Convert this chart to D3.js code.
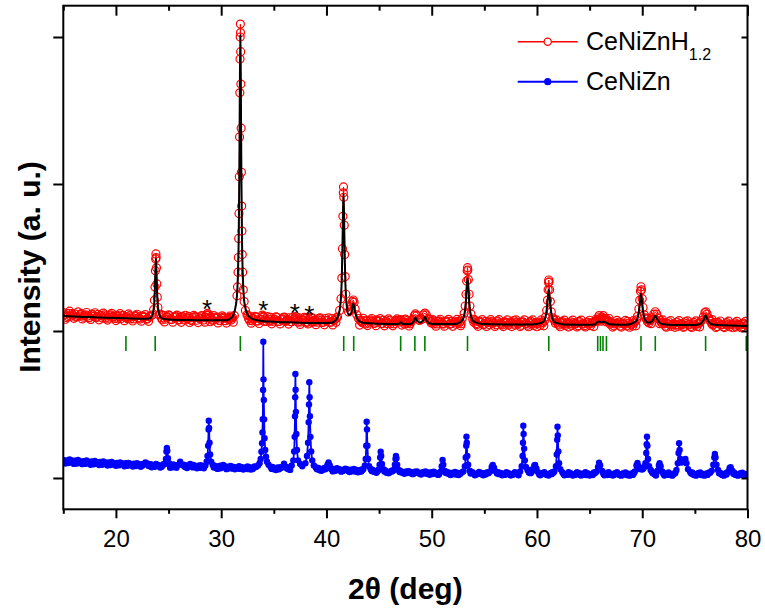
<!DOCTYPE html>
<html>
<head>
<meta charset="utf-8">
<script src="https://cdn.jsdelivr.net/npm/d3@7"></script>
<style>
	body { margin:0; background:#ffffff; }
	svg { display:block; font-family: Arial, "Liberation Sans", sans-serif; }
</style>
</head>
<body>
<div id="chart"></div>
<script>

	// 2theta (deg), intensity (a.u., curves offset as in the figure)
	var hydrideObs = [
		[15.0,112.5],[15.4,110.0],[15.8,111.8],[16.2,109.5],[16.6,111.2],[17.0,110.4],[17.4,108.9],[17.8,111.0],[18.2,109.6],[18.6,110.6],
		[19.0,108.7],[19.4,110.3],[19.8,109.9],[20.2,108.3],[20.6,110.4],[21.0,109.8],[21.4,108.2],[21.8,110.1],[22.2,108.9],[22.6,109.6],
		[23.0,108.4],[23.25,110.0],
		[23.45,110.8],[23.58,114.5],[23.66,121],[23.71,130],[23.75,141],[23.78,149],[23.8,152.4],[23.82,150],[23.85,143],[23.89,132],
		[23.93,123],[23.99,116],[24.1,111],
		[24.4,107.6],[24.8,109.5],[25.2,108.0],[25.6,109.8],[26.0,107.5],[26.4,109.0],[26.8,108.2],[27.2,107.1],[27.6,109.4],[28.0,108.3],
		[28.3,107.4],[28.6,110.8],[28.8,111.0],[29.1,108.0],[29.5,109.1],[29.9,107.2],[30.3,108.7],[30.7,107.6],[31.0,108.9],[31.25,110.5],
		[31.5,124],[31.55,130],[31.6,140],[31.63,150],[31.66,163],[31.69,180],[31.72,205],[31.745,232],[31.77,262],[31.79,285],
		[31.805,300],[31.82,308.8],[31.835,303],[31.85,290],[31.87,268],[31.895,238],[31.92,208],[31.945,185],[31.97,168],[32.0,152],
		[32.04,140],[32.1,128],[32.18,120],[32.3,114],[32.45,111],
		[32.7,107.2],[33.0,108.5],[33.4,106.8],[33.8,108.0],[34.0,109.5],[34.2,108.3],[34.6,106.6],[35.0,107.9],[35.4,106.5],[35.8,108.2],
		[36.2,107.0],[36.6,106.3],[37.0,108.2],[37.3,106.0],[37.7,107.5],[38.1,105.9],[38.4,107.5],[38.8,106.2],[39.2,107.6],[39.6,105.8],
		[40.0,107.0],[40.4,106.0],[40.8,107.8],[41.05,109.5],
		[41.25,114],[41.38,122],[41.46,136],[41.52,156],[41.56,178],[41.6,194],[41.62,198],[41.65,191],[41.69,172],[41.73,152],
		[41.78,137],[41.84,125],[41.95,117],[42.1,113],[42.25,114.5],[42.38,117],[42.48,120],[42.55,121.1],[42.63,119.5],[42.73,115],
		[42.88,111],[43.05,108.5],
		[43.3,106.4],[43.7,104.8],[44.1,106.7],[44.5,105.2],[44.9,106.9],[45.3,105.0],[45.7,106.5],[46.1,104.9],[46.5,106.6],[46.85,106.8],
		[47.05,107.8],[47.3,106.0],[47.7,105.2],[48.0,106.3],
		[48.2,108],[48.35,110.5],[48.45,111.6],[48.58,110.5],[48.75,108],[48.95,108.5],[49.2,111],[49.35,112.2],[49.48,111],[49.65,108.5],
		[49.9,106.6],[50.2,104.8],[50.6,106.5],[51.0,105.0],[51.4,106.8],[51.8,104.9],[52.2,106.3],[52.6,105.4],
		[52.9,108.5],[53.08,112],[53.18,117],[53.26,125],[53.32,134],[53.37,141],[53.4,143.1],[53.43,141.5],[53.48,135],[53.55,125],
		[53.63,117],[53.73,111.5],[53.9,108],
		[54.2,105.0],[54.6,106.4],[55.0,104.7],[55.4,106.2],[55.8,105.1],[56.2,106.9],[56.6,104.8],[57.0,106.0],[57.4,105.3],[57.8,107.0],
		[58.2,104.9],[58.6,106.2],[59.0,105.0],[59.4,106.7],[59.8,105.2],[60.2,106.0],[60.55,105.5],
		[60.8,109.5],[60.92,114],[61.0,121],[61.06,128],[61.1,133],[61.12,134.7],[61.15,133.5],[61.2,128],[61.27,120],[61.36,113],
		[61.5,109],[61.7,107],
		[62.0,104.7],[62.4,106.4],[62.8,104.9],[63.2,106.2],[63.6,105.0],[64.0,106.6],[64.4,104.8],[64.8,106.0],[65.2,105.2],
		[65.6,108],[65.8,109],[66.0,108.4],[66.2,109.2],[66.45,108.6],[66.7,107.5],
		[67.0,106.3],[67.4,104.8],[67.8,106.1],[68.2,105.0],[68.6,106.5],[69.0,104.6],[69.3,106.2],
		[69.55,110],[69.68,115],[69.76,121],[69.83,127],[69.88,130.1],[69.93,128],[70.0,122],[70.08,116],[70.2,111],[70.4,108],
		[70.7,107],[70.95,109],[71.1,111.5],[71.24,113.1],[71.38,111.5],[71.55,108.5],[71.8,106],
		[72.1,104.9],[72.5,106.3],[72.9,104.5],[73.3,106.0],[73.7,104.9],[74.1,106.4],[74.5,104.6],[74.9,105.8],[75.3,104.8],
		[75.6,107],[75.8,109.5],[75.95,112.5],[76.05,113.1],[76.15,111.5],[76.3,109],[76.5,106.5],
		[76.8,104.6],[77.2,105.9],[77.6,104.4],[78.0,105.7],[78.4,104.2],[78.8,105.5],[79.2,104.0],[79.6,105.3],[80.0,104.5]
	];

	// in-between readings of the noisy hydride background
	var hydrideObsMid = [
		[15.2,108.0],[15.6,113.5],[16.0,108.6],[16.4,113.0],[16.8,108.2],[17.2,112.6],[17.6,107.9],[18.0,112.4],[18.4,107.6],[18.8,112.2],
		[19.2,107.4],[19.6,112.0],[20.0,107.1],[20.4,111.8],[20.8,107.0],[21.2,111.6],[21.6,106.8],[22.0,111.4],[22.4,106.7],[22.8,111.2],
		[23.1,106.6],[24.25,111.4],[24.6,106.2],[25.0,111.0],[25.4,106.0],[25.8,110.8],[26.2,105.9],[26.6,110.7],[27.0,105.8],[27.4,110.6],
		[27.8,105.7],[28.15,110.5],[28.45,106.0],[28.7,112.0],[28.95,106.3],[29.3,110.4],[29.7,105.5],[30.1,110.3],[30.5,105.4],[30.85,110.2],
		[31.15,106.0],[32.55,110.6],[32.85,105.3],[33.2,110.0],[33.6,105.1],[33.9,110.8],[34.1,106.5],[34.4,109.8],[34.8,104.9],[35.2,109.6],
		[35.6,104.8],[36.0,109.5],[36.4,104.7],[36.8,109.4],[37.1,109.8],[37.5,104.5],[37.9,109.2],[38.25,104.8],[38.5,109.5],[39.0,104.3],
		[39.4,109.0],[39.8,104.2],[40.2,108.9],[40.6,104.1],[40.95,108.9],[43.15,104.0],[43.5,108.6],[43.9,103.7],[44.3,108.5],[44.7,103.6],
		[45.1,108.4],[45.5,103.5],[45.9,108.3],[46.3,103.5],[46.7,108.2],[47.15,104.0],[47.5,108.1],[47.85,103.4],[50.05,108.0],[50.4,103.3],
		[50.8,108.0],[51.2,103.3],[51.6,107.9],[52.0,103.2],[52.4,107.9],[52.75,103.6],[54.05,107.8],[54.4,103.2],[54.8,107.8],[55.2,103.1],
		[55.6,107.7],[56.0,103.1],[56.4,107.7],[56.8,103.0],[57.2,107.6],[57.6,103.0],[58.0,107.6],[58.4,103.0],[58.8,107.6],[59.2,102.9],
		[59.6,107.5],[60.0,102.9],[60.4,107.5],[60.65,103.5],[61.85,107.5],[62.2,102.9],[62.6,107.4],[63.0,102.8],[63.4,107.4],[63.8,102.8],
		[64.2,107.4],[64.6,102.8],[65.0,107.3],[65.4,103.0],[65.7,106.5],[65.9,110.5],[66.1,106.7],[66.3,110.5],[66.6,106.2],[66.85,108.5],
		[67.2,102.7],[67.6,107.2],[68.0,102.7],[68.4,107.2],[68.8,102.6],[69.15,107.1],[69.4,103.5],[70.55,108.8],[70.85,105.0],[71.65,105.0],
		[71.95,107.5],[72.3,102.6],[72.7,107.0],[73.1,102.5],[73.5,107.0],[73.9,102.5],[74.3,106.9],[74.7,102.4],[75.1,106.9],[75.45,102.8],
		[76.65,107.8],[77.0,102.4],[77.4,106.8],[77.8,102.3],[78.2,106.7],[78.6,102.2],[79.0,106.6],[79.4,102.2],[79.8,106.5]
	];

	// further background readings of the hydride (odd tenths)
	var hydrideObsFine = [
		[15.1,111.0],[15.3,109.2],[15.5,112.0],[15.7,110.0],[15.9,110.8],[16.1,111.6],[16.3,109.8],[16.5,110.2],[16.7,111.8],[16.9,109.4],
		[17.1,111.0],[17.3,110.2],[17.5,109.2],[17.7,111.5],[17.9,110.0],[18.1,109.0],[18.3,111.3],[18.5,110.5],[18.7,108.8],[18.9,110.9],
		[19.1,110.2],[19.3,108.7],[19.5,111.0],[19.7,109.5],[19.9,108.6],[20.1,110.7],[20.3,109.9],[20.5,108.5],[20.7,110.6],[20.9,109.1],
		[21.1,108.4],[21.3,110.5],[21.5,109.6],[21.7,108.2],[21.9,110.4],[22.1,109.0],[22.3,108.1],[22.5,110.3],[22.7,109.4],[22.9,108.0],
		[23.15,109.8],[24.3,109.0],[24.5,110.6],[24.7,108.0],[24.9,109.6],[25.1,110.4],[25.3,107.8],[25.5,109.3],[25.7,110.2],[25.9,107.6],
		[26.1,109.2],[26.3,110.0],[26.5,107.5],[26.7,109.1],[26.9,109.9],[27.1,107.4],[27.3,109.0],[27.5,109.8],[27.7,107.3],[27.9,108.9],
		[28.1,109.7],[28.5,109.5],[28.7,110.6],[28.9,108.6],[29.0,109.6],[29.2,107.2],[29.4,108.8],[29.6,109.5],[29.8,107.1],[30.0,108.7],
		[30.2,109.4],[30.4,107.0],[30.6,108.6],[30.8,109.3],[30.95,107.5],[31.1,109.0],[32.6,108.3],[32.8,109.6],[32.95,106.9],[33.1,108.2],
		[33.3,109.5],[33.5,106.8],[33.7,108.1],[33.95,110.0],[34.3,106.7],[34.5,108.0],[34.7,109.3],[34.9,106.6],[35.1,107.9],[35.3,109.2],
		[35.5,106.5],[35.7,107.8],[35.9,109.1],[36.1,106.4],[36.3,107.7],[36.5,109.0],[36.7,106.3],[36.9,108.3],[37.05,109.0],[37.2,107.6],
		[37.4,108.9],[37.6,106.2],[37.8,107.5],[38.0,108.8],[38.2,106.1],[38.35,108.4],[38.6,106.0],[38.7,108.7],[38.9,107.4],[39.1,106.0],
		[39.3,108.6],[39.5,107.3],[39.7,105.9],[39.9,108.5],[40.1,107.2],[40.3,105.8],[40.5,108.4],[40.7,107.1],[40.9,105.9],[43.2,107.2],
		[43.4,105.6],[43.6,107.0],[43.8,106.9],[44.0,105.3],[44.2,107.6],[44.4,106.6],[44.6,105.2],[44.8,107.5],[45.0,106.5],[45.2,105.1],
		[45.4,107.4],[45.6,106.4],[45.8,105.0],[46.0,107.3],[46.2,106.3],[46.4,104.9],[46.6,107.2],[46.8,106.0],[47.0,107.5],[47.2,106.4],
		[47.4,104.8],[47.6,107.0],[47.8,106.1],[47.95,104.9],[48.1,107.0],[48.85,107.2],[49.05,107.9],[49.75,107.8],[49.95,105.5],[50.1,107.0],
		[50.3,106.2],[50.5,104.8],[50.7,106.9],[50.9,106.1],[51.1,104.7],[51.3,106.8],[51.5,106.0],[51.7,104.6],[51.9,106.7],[52.1,105.9],
		[52.3,104.6],[52.5,106.6],[52.7,106.5],[52.8,104.9],[54.0,106.0],[54.15,106.8],[54.3,104.4],[54.5,106.6],[54.7,105.8],[54.9,104.3],
		[55.1,106.5],[55.3,105.7],[55.5,104.2],[55.7,106.4],[55.9,105.6],[56.1,104.2],[56.3,106.3],[56.5,105.5],[56.7,104.1],[56.9,106.2],
		[57.1,105.4],[57.3,104.0],[57.5,106.2],[57.7,105.3],[57.9,104.0],[58.1,106.1],[58.3,105.3],[58.5,103.9],[58.7,106.0],[58.9,105.2],
		[59.1,103.9],[59.3,106.0],[59.5,105.1],[59.7,103.8],[59.9,105.9],[60.1,105.1],[60.3,103.8],[60.45,105.9],[60.7,106.8],[61.6,108.0],
		[61.75,105.2],[61.9,106.0],[62.1,104.0],[62.3,105.8],[62.5,105.0],[62.7,103.7],[62.9,105.7],[63.1,104.9],[63.3,103.7],[63.5,105.7],
		[63.7,104.9],[63.9,103.6],[64.1,105.6],[64.3,104.8],[64.5,103.6],[64.7,105.6],[64.9,104.8],[65.1,103.6],[65.3,105.9],[65.5,106.5],
		[65.75,107.2],[65.95,108.0],[66.15,107.5],[66.35,107.8],[66.55,107.6],[66.8,106.2],[66.95,104.6],[67.1,105.5],[67.3,103.5],[67.5,105.4],
		[67.7,104.7],[67.9,103.4],[68.1,105.4],[68.3,104.6],[68.5,103.4],[68.7,105.3],[68.9,104.6],[69.1,103.4],[69.2,105.3],[69.45,107.5],
		[70.3,109.0],[70.5,106.3],[70.65,105.5],[70.8,107.8],[71.7,107.3],[71.9,105.0],[72.0,106.0],[72.2,103.3],[72.4,105.2],[72.6,104.4],
		[72.8,103.2],[73.0,105.1],[73.2,104.3],[73.4,103.2],[73.6,105.1],[73.8,104.3],[74.0,103.1],[74.2,105.0],[74.4,104.2],[74.6,103.1],
		[74.8,104.9],[75.0,104.2],[75.2,103.1],[75.4,105.2],[75.5,106.0],[76.4,107.5],[76.6,105.0],[76.7,104.0],[76.9,105.9],[77.1,103.0],
		[77.3,104.9],[77.5,104.1],[77.7,102.9],[77.9,104.8],[78.1,104.0],[78.3,102.9],[78.5,104.8],[78.7,104.0],[78.9,102.8],[79.1,104.7],
		[79.3,103.9],[79.5,102.8],[79.7,104.6],[79.9,103.9]
	];

	// calculated (fit) profile of the hydride
	var hydrideCalc = [
		[15.0,110.2],[17.0,109.6],[19.0,109.0],[21.0,108.6],[22.6,108.3],[23.2,108.5],[23.4,109.8],[23.55,113.5],[23.65,120.3],[23.7,128.7],
		[23.75,141.1],[23.8,149.4],[23.85,141.1],[23.9,128.7],[23.95,120.3],[24.05,113.5],[24.2,109.8],[24.4,108.6],[25.0,107.9],[27.0,107.5],
		[29.0,107.3],[30.5,107.3],[30.9,108.6],[31.12,110.5],[31.42,118.6],[31.57,134],[31.67,167.2],[31.72,204.2],[31.77,262.2],[31.82,301.2],
		[31.87,262.2],[31.92,204.2],[31.97,167.2],[32.07,134],[32.22,118.6],[32.52,111.1],[32.9,108.5],[33.5,107.2],[35.0,106.3],[37.0,105.8],
		[39.0,105.4],[40.5,105.6],[40.9,107.5],[41.12,110.4],[41.32,117.6],[41.44,132.5],[41.5,149.5],[41.56,175.9],[41.62,193.5],[41.68,175.9],
		[41.74,149.5],[41.8,132.5],[41.92,117.6],[42.12,110.8],[42.3,111.5],[42.42,114.5],[42.49,117.3],[42.55,118.5],[42.61,117.3],[42.7,113.5],
		[42.85,109.5],[43.1,106.8],[43.5,105.6],[45.0,104.9],[46.8,104.7],[47.05,105.9],[47.3,104.7],[48.1,105.0],[48.3,106.8],[48.45,109.1],
		[48.6,107.0],[48.9,105.8],[49.2,107.3],[49.35,109.5],[49.5,107.3],[49.75,105.3],[50.5,104.7],[52.2,104.8],[52.7,106.0],[53.0,108.5],
		[53.15,113.0],[53.25,120.5],[53.32,129.3],[53.4,136.3],[53.48,129.3],[53.55,120.5],[53.65,113.0],[53.8,108.5],[54.1,106.0],[54.8,104.8],
		[57.0,104.5],[59.5,104.5],[60.4,105.5],[60.72,107.5],[60.87,111.7],[60.97,117.8],[61.04,122.8],[61.12,128.0],[61.2,122.8],[61.27,117.8],
		[61.37,111.7],[61.52,107.5],[61.85,105.5],[62.6,104.5],[65.0,104.3],[65.5,104.5],[65.75,106.0],[65.9,106.5],[66.1,106.0],[66.3,106.3],
		[66.6,105.6],[66.9,104.6],[68.5,104.2],[69.43,106.8],[69.6,109.8],[69.71,114.6],[69.79,120.5],[69.88,125.1],[69.97,120.5],[70.05,114.6],
		[70.16,109.8],[70.33,106.8],[70.6,105.6],[70.9,106.5],[71.08,108.3],[71.24,110.4],[71.4,108.3],[71.6,106.0],[71.9,104.8],[73.0,104.1],
		[75.0,104.0],[75.5,104.8],[75.75,106.5],[75.9,108.7],[76.02,110.5],[76.14,108.7],[76.3,106.5],[76.55,104.8],[77.2,104.0],[80.0,103.4]
	];

	// CeNiZn pattern
	var alloyObs = [
		[15.0,12.2],[15.4,10.6],[15.8,11.9],[16.2,10.3],[16.6,11.2],[17.0,10.0],[17.4,11.1],[17.8,9.6],[18.2,10.7],[18.6,9.5],
		[19.0,10.5],[19.4,9.2],[19.8,10.1],[20.2,9.0],[20.6,9.8],[21.0,8.6],[21.4,9.5],[21.8,8.4],[22.2,9.2],[22.5,8.3],
		[22.65,9.4],[22.8,10.6],[22.95,9.3],[23.2,8.9],[23.6,7.9],[24.0,8.8],[24.35,7.7],
		[24.65,9.5],[24.75,13],[24.8,18],[24.84,20.4],[24.88,18.5],[24.94,13.5],[25.05,10],[25.3,7.6],[25.6,8.4],
		[25.9,8.8],[26.1,11],[26.3,8.9],[26.6,7.4],[26.9,8.0],[27.05,9.6],[27.2,8.0],[27.5,8.1],[27.9,7.0],[28.2,7.9],
		[28.5,8.5],[28.62,11],[28.7,15],[28.76,22],[28.8,33],[28.82,39],[28.85,34],[28.89,24],[28.95,16],[29.05,11],[29.2,8.8],
		[29.5,6.8],[29.8,7.6],[30.05,7.5],[30.2,8.9],[30.35,7.3],
		[30.7,6.6],[31.1,7.4],[31.5,6.4],[31.9,7.2],[32.3,6.3],[32.7,7.1],[33.0,6.2],
		[33.3,7.5],[33.5,8.5],[33.65,10],[33.75,13],[33.82,17.9],[33.88,23.6],[33.92,31],[33.95,40],[33.98,59.9],[34.0,92.7],
		[34.02,67.1],[34.05,53.1],[34.08,39.9],[34.12,27],[34.18,19],[34.26,14.5],[34.35,11],[34.5,9],[34.7,7.5],
		[35.0,6.0],[35.4,7.0],[35.8,7.3],[35.97,9.8],[36.15,7.5],[36.4,6.0],
		[36.7,8.5],[36.85,12],[36.93,18],[36.98,28],[37.01,42],[37.03,55],[37.05,70.7],[37.07,60],[37.1,45],[37.14,30],[37.2,19],[37.3,12],
		[37.5,9.5],[37.7,8],[38.0,10],[38.15,15],[38.25,24],[38.31,38],[38.34,50],[38.37,65.1],[38.4,55],[38.43,42],[38.48,28],
		[38.55,18],[38.65,12],[38.8,8.5],[39.0,7],
		[39.3,5.4],[39.7,6.4],[40.0,6.8],[40.1,9],[40.2,10.5],[40.32,8.5],[40.45,6.2],
		[40.8,5.0],[41.2,6.0],[41.6,4.9],[42.0,5.8],[42.4,4.6],[42.8,5.5],[43.2,4.4],
		[43.5,6],[43.65,8.5],[43.73,13],[43.78,22],[43.82,38.3],[43.85,33],[43.89,22],[43.95,13],[44.05,8],[44.2,6],[44.5,4.3],
		[44.95,5.8],[45.05,9],[45.1,14],[45.15,17.9],[45.2,15],[45.27,9.5],[45.4,6],[45.7,3.6],[46.1,4.6],
		[46.4,5.5],[46.5,9],[46.56,13],[46.6,15.0],[46.65,13.5],[46.72,9],[46.85,5.5],
		[47.2,3.5],[47.6,4.4],[48.0,3.2],[48.4,4.2],[48.8,3.0],[49.2,4.0],[49.6,2.9],[50.0,3.9],[50.4,2.8],
		[50.85,4.5],[50.95,8],[51.03,12.2],[51.1,9],[51.22,4.8],[51.6,3.8],[52.0,2.6],[52.4,3.6],[52.7,2.7],
		[53.0,4.5],[53.15,8],[53.23,14],[53.28,22],[53.3,28.1],[53.33,24],[53.38,15],[53.46,9],[53.6,5],
		[53.9,3.7],[54.3,2.5],[54.7,3.5],[55.1,2.4],[55.55,4.5],[55.7,7.5],[55.8,8.8],[55.92,7],[56.1,4.5],
		[56.5,3.4],[56.9,2.3],[57.3,3.3],[57.7,2.2],[58.1,3.4],
		[58.4,4.5],[58.55,8],[58.63,15],[58.67,24],[58.7,35.6],[58.73,30],[58.78,20],[58.85,12],[58.95,7.5],[59.1,5.5],[59.35,4.2],
		[59.6,5.5],[59.75,8.5],[59.82,8.8],[59.95,6.5],[60.1,4],[60.5,3.3],[60.9,2.2],[61.3,3.2],
		[61.65,4.5],[61.8,8],[61.88,16],[61.92,26],[61.95,34.9],[61.98,29],[62.03,18],[62.1,10],[62.22,6],[62.4,4],
		[62.8,2.2],[63.2,3.3],[63.6,2.1],[64.0,3.2],[64.4,2.2],[64.8,3.1],[65.2,2.3],
		[65.65,4.2],[65.8,7.5],[65.9,10.4],[66.0,8.5],[66.2,4.8],
		[66.6,3.1],[67.0,2.1],[67.4,3.2],[67.8,2.2],[68.2,3.1],[68.6,2.0],[69.0,3.0],
		[69.3,4.5],[69.45,8.5],[69.55,10.2],[69.65,8],[69.8,6],[70.1,6.5],[70.3,10],[70.38,17],[70.42,23],[70.45,28.1],
		[70.49,22],[70.55,13],[70.65,8],[70.8,5.5],[71.1,3.0],
		[71.45,5],[71.58,8.5],[71.65,10.0],[71.75,8],[71.9,4.5],[72.3,3.2],[72.7,2.1],[73.0,3.0],
		[73.25,5.5],[73.38,10],[73.45,17],[73.5,23.6],[73.55,19],[73.63,13],[73.75,10.5],[73.85,11],[74.0,12],[74.1,12.9],
		[74.2,10],[74.35,6],[74.55,4],[74.9,2.2],[75.3,3.2],[75.7,2.1],[76.1,3.1],
		[76.6,5],[76.75,9],[76.85,14],[76.9,16.3],[76.96,14],[77.05,9],[77.2,5.5],[77.6,2.1],[77.9,3.1],
		[78.15,4.2],[78.3,6.8],[78.4,7.3],[78.55,5],[78.9,2.0],[79.3,3.1],[79.7,2.2],[80.0,2.9]
	];

	// in-between readings of the CeNiZn background
	var alloyObsMid = [
		[15.2,9.8],[15.6,12.6],[16.0,9.6],[16.4,12.2],[16.8,9.4],[17.2,11.9],[17.6,9.0],[18.0,11.6],[18.4,8.8],[18.8,11.2],
		[19.2,8.5],[19.6,10.9],[20.0,8.3],[20.4,10.6],[20.8,8.0],[21.2,10.3],[21.6,7.8],[22.0,10.0],[22.35,7.6],[23.05,9.8],
		[23.4,7.3],[23.8,9.6],[24.2,7.1],[24.5,9.3],[25.15,7.0],[25.45,9.2],[25.75,7.0],[26.45,9.0],[26.75,6.8],[27.35,8.9],
		[27.7,6.6],[28.05,8.7],[28.35,6.6],[29.35,8.4],[29.65,6.2],[29.9,8.4],[30.5,6.0],[30.9,8.2],[31.3,5.9],[31.7,8.0],
		[32.1,5.8],[32.5,7.9],[32.85,5.7],[33.15,7.8],[34.85,7.5],[35.2,5.4],[35.6,7.4],[36.3,7.3],[36.55,5.5],[39.15,7.0],
		[39.5,4.9],[39.85,7.0],[40.6,4.5],[41.0,6.6],[41.4,4.3],[41.8,6.4],[42.2,4.1],[42.6,6.1],[43.0,3.9],[43.35,5.8],
		[44.35,5.6],[44.75,3.5],[45.55,5.3],[45.9,3.2],[46.25,5.2],[47.0,4.9],[47.4,2.8],[47.8,4.7],[48.2,2.6],[48.6,4.5],
		[49.0,2.4],[49.4,4.4],[49.8,2.2],[50.2,4.3],[50.6,2.1],[51.4,4.2],[51.8,2.0],[52.2,4.1],[52.55,2.0],[52.85,3.8],
		[53.75,4.3],[54.1,1.9],[54.5,4.1],[54.9,1.8],[55.3,4.0],[56.3,4.0],[56.7,1.8],[57.1,4.0],[57.5,1.7],[57.9,4.0],
		[58.25,1.9],[59.25,3.6],[59.45,5.6],[60.3,1.8],[60.7,4.0],[61.1,1.7],[61.45,3.9],[62.6,1.8],[63.0,4.0],[63.4,1.7],
		[63.8,3.9],[64.2,1.7],[64.6,3.9],[65.0,1.7],[65.4,3.7],[66.4,1.8],[66.8,3.9],[67.2,1.7],[67.6,3.9],[68.0,1.6],
		[68.4,3.8],[68.8,1.6],[69.15,3.6],[70.95,4.0],[71.3,1.7],[72.1,1.7],[72.5,3.8],[72.85,1.6],[73.15,3.6],[74.75,3.7],
		[75.1,1.6],[75.5,3.7],[75.9,1.6],[76.35,3.7],[77.4,3.6],[77.75,1.6],[78.05,3.6],[78.75,3.6],[79.1,1.6],[79.5,3.6],
		[79.9,1.6]
	];

	// further background readings of CeNiZn (odd tenths)
	var alloyObsFine = [
		[15.1,11.0],[15.3,12.0],[15.5,10.2],[15.7,11.3],[15.9,10.6],[16.1,11.8],[16.3,9.9],[16.5,11.0],[16.7,10.4],[16.9,11.5],
		[17.1,9.6],[17.3,10.7],[17.5,10.1],[17.7,11.2],[17.9,9.3],[18.1,10.4],[18.3,9.8],[18.5,10.9],[18.7,9.0],[18.9,10.1],
		[19.1,9.6],[19.3,10.6],[19.5,8.8],[19.7,9.8],[19.9,9.4],[20.1,10.3],[20.3,8.6],[20.5,9.6],[20.7,9.2],[20.9,10.0],
		[21.1,8.3],[21.3,9.3],[21.5,9.0],[21.7,9.8],[21.9,8.1],[22.1,9.1],[22.3,8.8],[22.45,9.4],[23.1,8.1],[23.3,9.3],
		[23.5,8.5],[23.7,7.6],[23.9,9.0],[24.1,8.3],[24.25,7.4],[24.45,8.6],[25.2,8.9],[25.4,7.3],[25.5,8.6],[25.7,8.0],
		[26.5,7.8],[26.7,8.6],[27.3,7.2],[27.4,8.5],[27.6,7.6],[27.8,8.3],[28.0,7.0],[28.1,8.2],[28.3,7.4],[28.4,8.1],
		[29.3,7.2],[29.4,8.0],[29.6,7.5],[29.7,7.9],[29.95,6.6],[30.45,7.8],[30.6,6.7],[30.8,7.6],[31.0,6.4],[31.2,7.5],
		[31.4,6.9],[31.6,7.3],[31.8,6.2],[32.0,7.3],[32.2,6.8],[32.4,7.2],[32.6,6.0],[32.8,7.0],[32.95,6.7],[33.1,7.0],
		[34.8,6.2],[34.95,7.2],[35.1,6.6],[35.3,7.0],[35.5,5.9],[35.7,6.9],[36.25,6.4],[36.5,6.9],
		[39.1,6.0],[39.2,6.7],[39.4,6.3],[39.6,5.3],[39.8,6.5],[39.9,5.9],[40.55,5.8],[40.7,6.2],[40.9,5.1],[41.1,6.0],
		[41.3,5.6],[41.5,4.8],[41.7,5.8],[41.9,5.4],[42.1,4.6],[42.3,5.6],[42.5,5.1],[42.7,4.4],[42.9,5.4],[43.1,4.9],
		[43.3,4.4],[43.4,5.2],[44.3,4.8],[44.4,5.3],[44.6,4.0],[44.8,4.8],[44.9,5.0],[45.5,4.4],[45.6,4.7],[45.8,4.1],
		[46.0,3.7],[46.2,4.5],[46.3,4.8],[46.95,4.1],[47.1,4.4],[47.3,3.7],[47.5,4.1],[47.7,3.4],[47.9,4.2],[48.1,3.8],
		[48.3,3.1],[48.5,4.0],[48.7,3.6],[48.9,2.9],[49.1,3.8],[49.3,3.4],[49.5,2.8],[49.7,3.7],[49.9,3.3],[50.1,2.7],
		[50.3,3.6],[50.5,3.2],[50.7,2.6],[51.3,3.5],[51.5,3.0],[51.7,2.5],[51.9,3.4],[52.1,3.0],[52.3,2.4],[52.5,3.3],
		[52.6,3.0],[53.7,3.1],[53.8,3.9],[54.0,3.0],[54.2,2.4],[54.4,3.3],[54.6,2.9],[54.8,2.3],[55.0,3.2],[55.2,2.9],
		[55.4,3.3],[56.2,3.1],[56.4,2.6],[56.6,3.3],[56.8,2.8],[57.0,2.2],[57.2,3.2],[57.4,2.8],[57.6,2.2],[57.8,3.1],
		[58.0,2.7],[58.2,2.4],[59.2,4.4],[59.4,3.3],[59.5,4.0],[60.2,2.6],[60.4,2.3],[60.6,3.1],[60.8,2.7],[61.0,2.1],
		[61.2,3.0],[61.4,2.6],[61.55,3.5],[62.5,2.9],[62.7,2.6],[62.9,2.1],[63.1,3.0],[63.3,2.6],[63.5,2.0],[63.7,2.9],
		[63.9,2.6],[64.1,2.0],[64.3,2.9],[64.5,2.6],[64.7,2.0],[64.9,2.9],[65.1,2.6],[65.3,2.0],[65.5,3.2],[66.3,2.8],
		[66.5,2.5],[66.7,2.0],[66.9,2.9],[67.1,2.6],[67.3,2.0],[67.5,2.9],[67.7,2.6],[67.9,2.0],[68.1,2.9],[68.3,2.5],
		[68.5,2.0],[68.7,2.9],[68.9,2.5],[69.1,2.1],[69.2,3.1],[69.7,7.0],[69.9,6.5],[70.0,5.8],[70.2,7.5],[70.9,4.5],
		[71.0,3.3],[71.2,2.6],[71.35,3.5],[72.0,2.8],[72.2,2.4],[72.4,2.1],[72.6,2.9],[72.8,2.5],[72.9,2.1],[73.1,3.1],
		[74.65,3.0],[74.8,2.6],[75.0,2.1],[75.2,2.8],[75.4,2.5],[75.6,2.0],[75.8,2.8],[76.0,2.5],[76.2,2.1],[76.45,3.5],
		[77.3,3.2],[77.5,2.6],[77.7,2.0],[77.8,2.8],[78.0,2.4],[78.65,2.8],[78.8,2.4],[79.0,2.0],[79.2,2.8],[79.4,2.4],
		[79.6,2.0],[79.8,2.8]
	];

	// Bragg reflections of the hydride (green bars)
	var braggPositions = [20.95, 23.73, 31.82, 41.64, 42.59, 47.05, 48.4, 49.35, 53.4, 61.12,
		65.77, 66.03, 66.27, 66.6, 69.88, 71.24, 76.02, 79.88];

	// impurity peaks marked with *
	var starAngles = [28.65, 34.0, 37.0, 38.37];
	var starLevels = [119.3, 118.4, 116.5, 114.8];

	var xMajorTicks = [20, 30, 40, 50, 60, 70, 80];
	var xMinorTicks = [15, 25, 35, 45, 55, 65, 75];
	var yTicks = [0, 100, 200, 300];

	var seriesNames = ["CeNiZnH", "CeNiZn"];
	var seriesSub = ["1.2", ""];
	var seriesColors = ["#ff0000", "#0000ff"];

	var chartW = 765;
	var chartH = 612;
	// note: "top" is a reserved window property, so use p* names
	var pLeft = 63.3, pRight = 747.5, pTop = 5.7, pBottom = 509.3;

	var x = d3.scaleLinear().domain([15, 80]).range([pLeft, pRight]);
	var y = d3.scaleLinear().domain([-21.3, 321.3]).range([pBottom, pTop]);

	draw_chart();

	function by_angle(a, b){ return a[0] - b[0]; }

	function draw_chart()
	{
		var hydride = hydrideObs.concat(hydrideObsMid, hydrideObsFine).sort(by_angle);
		var alloy = alloyObs.concat(alloyObsMid, alloyObsFine).sort(by_angle);

		var svg = d3.select('#chart').append('svg')
			.attr('width', chartW)
			.attr('height', chartH);

		svg.append('rect').attr('width', chartW).attr('height', chartH).attr('fill', '#ffffff');

		svg.append('clipPath').attr('id', 'plotclip')
			.append('rect')
			.attr('x', pLeft).attr('y', pTop)
			.attr('width', pRight - pLeft).attr('height', pBottom - pTop);

		var plot = svg.append('g').attr('clip-path', 'url(#plotclip)');

		var line = d3.line()
			.x(function(d){ return x(d[0]); })
			.y(function(d){ return y(d[1]); });

		// hydride observed: open red circles + thin line
		plot.append('path')
			.datum(hydride)
			.attr('d', line)
			.attr('fill', 'none')
			.attr('stroke', seriesColors[0])
			.attr('stroke-width', 1);
		plot.append('g').selectAll('circle')
			.data(hydride)
			.enter().append('circle')
			.attr('cx', function(d){ return x(d[0]); })
			.attr('cy', function(d){ return y(d[1]); })
			.attr('r', 4.0)
			.attr('fill', 'none')
			.attr('stroke', seriesColors[0])
			.attr('stroke-width', 1.2);

		// fit
		var fitLine = d3.line()
			.x(function(d){ return x(d[0]); })
			.y(function(d){ return y(d[1]); })
			.curve(d3.curveMonotoneX);
		plot.append('path')
			.datum(hydrideCalc)
			.attr('d', fitLine)
			.attr('fill', 'none')
			.attr('stroke', '#000000')
			.attr('stroke-width', 2);

		// Bragg bars
		plot.append('g').selectAll('line')
			.data(braggPositions)
			.enter().append('line')
			.attr('x1', function(d){ return x(d); })
			.attr('x2', function(d){ return x(d); })
			.attr('y1', y(96.6))
			.attr('y2', y(86.4))
			.attr('stroke', '#008000')
			.attr('stroke-width', 1.6);

		// CeNiZn: filled blue circles + line
		plot.append('path')
			.datum(alloy)
			.attr('d', line)
			.attr('fill', 'none')
			.attr('stroke', seriesColors[1])
			.attr('stroke-width', 1.8);
		plot.append('g').selectAll('circle')
			.data(alloy)
			.enter().append('circle')
			.attr('cx', function(d){ return x(d[0]); })
			.attr('cy', function(d){ return y(d[1]); })
			.attr('r', 3.2)
			.attr('fill', seriesColors[1]);

		// stars
		svg.append('g').selectAll('text')
			.data(starAngles)
			.enter().append('text')
			.attr('x', function(d){ return x(d); })
			.attr('y', function(d, i){ return y(starLevels[i]) + 15; })
			.attr('text-anchor', 'middle')
			.attr('font-size', '26px')
			.attr('fill', '#000000')
			.text('*');

		// axes
		var axB = svg.append('g').attr('transform', 'translate(0,' + pBottom + ')')
			.call(d3.axisBottom(x).tickValues(xMajorTicks).tickSize(9).tickPadding(12).tickFormat(d3.format('d')));
		svg.append('g').attr('transform', 'translate(0,' + pBottom + ')')
			.call(d3.axisBottom(x).tickValues(xMinorTicks).tickSize(4.5).tickFormat(''));
		svg.append('g').attr('transform', 'translate(0,' + pTop + ')')
			.call(d3.axisTop(x).tickValues(xMajorTicks).tickSize(-10).tickFormat(''));
		svg.append('g').attr('transform', 'translate(0,' + pTop + ')')
			.call(d3.axisTop(x).tickValues(xMinorTicks).tickSize(-5).tickFormat(''));
		svg.append('g').attr('transform', 'translate(' + pLeft + ',0)')
			.call(d3.axisLeft(y).tickValues(yTicks).tickSize(10).tickFormat(''));
		svg.append('g').attr('transform', 'translate(' + pRight + ',0)')
			.call(d3.axisRight(y).tickValues(yTicks).tickSize(-6).tickFormat(''));

		svg.selectAll('.domain').remove();
		svg.selectAll('.tick line').attr('stroke', '#000000').attr('stroke-width', 2);
		axB.selectAll('text')
			.attr('font-size', '24px')
			.attr('font-family', 'Arial, "Liberation Sans", sans-serif')
			.attr('fill', '#000000');

		svg.append('rect')
			.attr('x', pLeft).attr('y', pTop)
			.attr('width', pRight - pLeft).attr('height', pBottom - pTop)
			.attr('fill', 'none')
			.attr('stroke', '#000000')
			.attr('stroke-width', 2);

		// titles
		svg.append('text')
			.attr('x', (pLeft + pRight) / 2)
			.attr('y', 598.5)
			.attr('text-anchor', 'middle')
			.attr('font-size', '30px')
			.attr('font-weight', 'bold')
			.text('2\u03b8 (deg)');

		svg.append('text')
			.attr('transform', 'translate(40,' + 267 + ') rotate(-90)')
			.attr('text-anchor', 'middle')
			.attr('font-size', '30px')
			.attr('font-weight', 'bold')
			.text('Intensity (a. u.)');

		// legend
		var lg = svg.append('g');
		var legY = [41.7, 81.7];
		seriesNames.forEach(function(name, i){
			lg.append('line')
				.attr('x1', 517.7).attr('x2', 577.7)
				.attr('y1', legY[i]).attr('y2', legY[i])
				.attr('stroke', seriesColors[i])
				.attr('stroke-width', i == 0 ? 1.5 : 2);
			lg.append('circle')
				.attr('cx', 547.7).attr('cy', legY[i])
				.attr('r', i == 0 ? 3.6 : 3.0)
				.attr('fill', i == 0 ? '#ffffff' : seriesColors[i])
				.attr('stroke', seriesColors[i])
				.attr('stroke-width', 1.2);
			var t = lg.append('text')
				.attr('x', 586)
				.attr('y', legY[i] + 8)
				.attr('font-size', '25px')
				.attr('fill', '#000000')
				.text(name);
			if(seriesSub[i] != "")
			{
				t.append('tspan')
					.attr('font-size', '16px')
					.attr('dy', 10)
					.text(seriesSub[i]);
			}
		});
	}
</script>
</body>
</html>
